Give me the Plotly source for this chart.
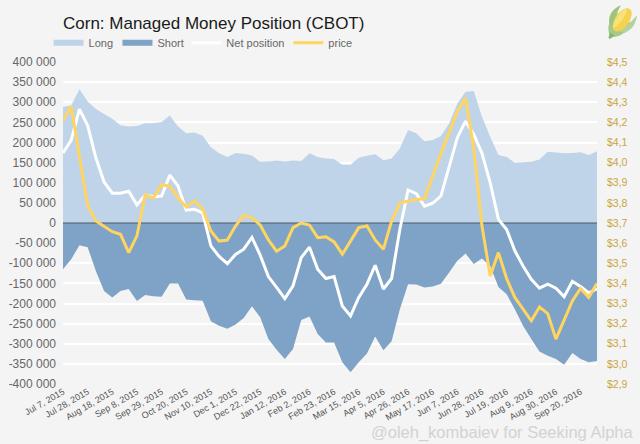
import base64
import pandas as pd
import plotly.graph_objects as go

weeks = pd.date_range("2015-07-07", periods=66, freq="7D")

long_pos = [288, 292, 332, 302, 283, 271, 259, 243, 240, 241, 248, 248, 251, 267, 240, 223, 225, 217, 188, 173, 164, 174, 172, 168, 152, 153, 155, 153, 155, 154, 173, 164,
            160, 159, 145, 145, 162, 167, 171, 156, 160, 185, 231, 223, 203, 206, 216, 247, 297, 326, 328, 264, 214, 169, 164, 150, 151, 152, 158, 177, 175, 173, 174, 176, 169, 178]
short_pos = [-115, -90, -55, -60, -119, -169, -185, -169, -164, -194, -179, -182, -183, -150, -150, -190, -192, -193, -244, -255, -263, -252, -236, -207, -234, -288, -315, -338, -313, -241, -232, -276,
             -297, -297, -346, -371, -346, -324, -282, -316, -294, -214, -152, -153, -160, -158, -151, -123, -94, -76, -102, -88, -107, -159, -177, -214, -255, -288, -319, -330, -338, -352, -323, -338, -346, -343]
net_pos = [174, 206, 283, 242, 162, 102, 74, 74, 79, 45, 69, 65, 67, 119, 92, 32, 34, 25, -57, -83, -101, -78, -65, -36, -80, -133, -160, -188, -156, -86, -60, -115,
           -138, -133, -206, -231, -185, -152, -105, -164, -138, -16, 82, 73, 42, 49, 67, 141, 212, 253, 220, 173, 100, 9, -16, -69, -107, -140, -162, -152, -162, -183, -145, -158, -174, -163]
price = [4.21, 4.28, 4.03, 3.79, 3.71, 3.685, 3.657, 3.644, 3.553, 3.636, 3.84, 3.825, 3.89, 3.883, 3.826, 3.78, 3.81, 3.77, 3.66, 3.61, 3.615, 3.685, 3.738, 3.726, 3.69, 3.616, 3.56, 3.586, 3.677, 3.70, 3.69, 3.627,
         3.632, 3.606, 3.545, 3.61, 3.677, 3.685, 3.616, 3.57, 3.71, 3.80, 3.81, 3.817, 3.82, 3.933, 4.045, 4.148, 4.255, 4.32, 4.07, 3.685, 3.437, 3.553, 3.424, 3.33, 3.27, 3.214, 3.283, 3.25, 3.123, 3.22, 3.313, 3.375, 3.33, 3.40]
x_labels = ["Jul 7, 2015", "Jul 28, 2015", "Aug 18, 2015", "Sep 8, 2015", "Sep 29, 2015", "Oct 20, 2015", "Nov 10, 2015", "Dec 1, 2015", "Dec 22, 2015",
            "Jan 12, 2016", "Feb 2, 2016", "Feb 23, 2016", "Mar 15, 2016", "Apr 5, 2016", "Apr 26, 2016", "May 17, 2016", "Jun 7, 2016", "Jun 28, 2016",
            "Jul 19, 2016", "Aug 9, 2016", "Aug 30, 2016", "Sep 20, 2016"]
left_vals = [400000, 350000, 300000, 250000, 200000, 150000, 100000, 50000, 0, -50000, -100000, -150000, -200000, -250000, -300000, -350000, -400000]
left_text = ["400 000", "350 000", "300 000", "250 000", "200 000", "150 000", "100 000", "50 000", "0", "-50 000", "-100 000", "-150 000", "-200 000", "-250 000", "-300 000", "-350 000", "-400 000"]
right_vals = [4.5, 4.4, 4.3, 4.2, 4.1, 4.0, 3.9, 3.8, 3.7, 3.6, 3.5, 3.4, 3.3, 3.2, 3.1, 3.0, 2.9]
right_text = ["$4,5", "$4,4", "$4,3", "$4,2", "$4,1", "$4,0", "$3,9", "$3,8", "$3,7", "$3,6", "$3,5", "$3,4", "$3,3", "$3,2", "$3,1", "$3,0", "$2,9"]

FONT = "Liberation Sans, Arial, sans-serif"
LONG_C = "#bfd4e9"
SHORT_C = "#7ea3c6"
PRICE_C = "#ffd560"
BG = "#f4f4f4"

fig = go.Figure()
fig.add_trace(go.Scatter(x=weeks, y=[v * 1000 for v in long_pos], name="Long", mode="none", fill="tozeroy",
                         fillcolor=LONG_C, legend="legend"))
fig.add_trace(go.Scatter(x=weeks, y=[v * 1000 for v in short_pos], name="Short", mode="none", fill="tozeroy",
                         fillcolor=SHORT_C, legend="legend2"))
fig.add_trace(go.Scatter(x=[weeks[0], weeks[-1]], y=[0, 0], mode="lines", showlegend=False, hoverinfo="skip",
                         line=dict(color="#4f5a66", width=1)))
fig.add_trace(go.Scatter(x=weeks, y=[v * 1000 for v in net_pos], name="Net position", mode="lines",
                         line=dict(color="white", width=3), legend="legend3"))
fig.add_trace(go.Scatter(x=weeks, y=price, name="price", mode="lines", yaxis="y2",
                         line=dict(color=PRICE_C, width=3), legend="legend4"))


def leg(x):
    return dict(x=x, y=1.06, xref="paper", yref="paper", xanchor="left", yanchor="middle",
                bgcolor="rgba(0,0,0,0)", font=dict(family=FONT, size=11, color="#666666"),
                itemwidth=30, tracegroupgap=0)


corn = """<svg xmlns='http://www.w3.org/2000/svg' viewBox='0 0 36 40' width='36' height='40'>
<g transform='rotate(35 18 20)'>
<path d='M18 38 C8 32 6 22 10 12 C12 20 14 26 18 30 C22 26 24 20 26 12 C30 22 28 32 18 38 Z' fill='#a5c98a'/>
<path d='M8 26 C2 18 4 10 8 4 C9 12 10 18 14 28 Z' fill='#9cc47f'/>
<path d='M28 26 C33 18 32 10 28 3 C27 12 26 18 22 28 Z' fill='#b4d29a'/>
<ellipse cx='18' cy='16' rx='7.5' ry='14' fill='#f4d34f'/>
<ellipse cx='15' cy='16' rx='3' ry='12' fill='#f9e27c'/>
<path d='M15 34 L21 34 L19 40 L17 40 Z' fill='#8cb574'/>
</g></svg>"""
corn_uri = "data:image/svg+xml;base64," + base64.b64encode(corn.encode()).decode()

pw, ph = 640 - 63 - 43, 444 - 62 - 60

fig.update_layout(
    width=640, height=444,
    autosize=False,
    margin=dict(l=63, r=43, t=62, b=60, autoexpand=False),
    paper_bgcolor=BG, plot_bgcolor=BG,
    font=dict(family=FONT, size=11, color="#666666"),
    title=dict(text="Corn: Managed Money Position (CBOT)", x=63 / 640, xanchor="left", xref="container",
               y=1 - 23 / 444, yanchor="middle", yref="container",
               font=dict(family=FONT, size=17, color="#1a1a1a")),
    legend=leg(-0.027),
    legend2=leg(0.102),
    legend3=leg(0.231),
    legend4=leg(0.422),
    showlegend=True,
    xaxis=dict(automargin=False, range=[weeks[0], weeks[-1]], tickmode="array", tickvals=list(weeks[::3]), ticktext=x_labels,
               tickangle=-30, showgrid=False, zeroline=False, ticks="", tickfont=dict(family=FONT, size=9, color="#555555")),
    yaxis=dict(automargin=False, range=[-400000, 400000], tickmode="array", tickvals=left_vals, ticktext=left_text,
               showgrid=True, gridcolor="#ffffff", gridwidth=1.5, zeroline=False, ticks="", ticklabelstandoff=6,
               tickfont=dict(family=FONT, size=12, color="#666666")),
    yaxis2=dict(automargin=False, range=[2.9, 4.5], overlaying="y", side="right", tickmode="array", tickvals=right_vals, ticktext=right_text,
                showgrid=False, zeroline=False, ticks="", ticklabelstandoff=9,
                tickfont=dict(family=FONT, size=10.5, color="#c9a63f")),
    annotations=[dict(text="@oleh_kombaiev for Seeking Alpha", x=(635 - 63) / pw, y=(384 - 432) / ph, xref="paper", yref="paper",
                      xanchor="right", yanchor="middle", showarrow=False,
                      font=dict(family=FONT, size=16.5, color="#d2d2d2"))],
    images=[dict(source=corn_uri, xref="paper", yref="paper", x=(603 - 63) / pw, y=(384 - 3) / ph, sizex=34 / pw, sizey=40 / ph,
                 xanchor="left", yanchor="top", sizing="contain", layer="above")],
)
fig.write_html("out.html", config={"displayModeBar": False},
               post_script="document.body.style.margin='0';document.documentElement.style.overflow='hidden';")
